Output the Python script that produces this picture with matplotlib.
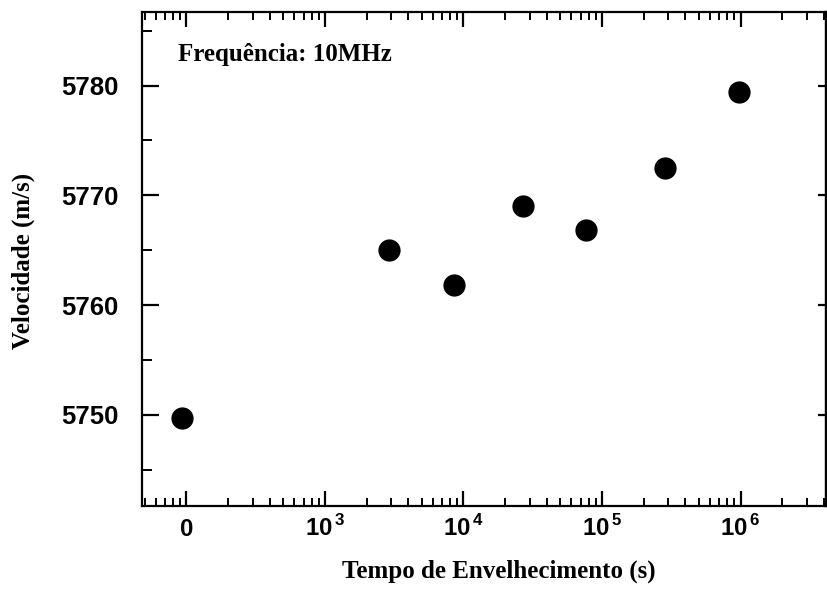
import matplotlib
matplotlib.use("Agg")
import matplotlib.pyplot as plt
from matplotlib.ticker import FixedLocator, FixedFormatter, LogLocator, NullFormatter

# Data
tempo = [93, 2900, 8500, 26800, 76700, 285000, 975000]
velocidade = [5749.7, 5765.0, 5761.8, 5769.0, 5766.8, 5772.5, 5779.4]

x_tick_values = [1e2, 1e3, 1e4, 1e5, 1e6]
x_tick_labels = [r"$\mathbf{0}$", r"$\mathbf{10}^{\,\mathbf{3}}$", r"$\mathbf{10}^{\,\mathbf{4}}$",
                 r"$\mathbf{10}^{\,\mathbf{5}}$", r"$\mathbf{10}^{\,\mathbf{6}}$"]
y_major = [5750, 5760, 5770, 5780]
y_minor = [5745, 5755, 5765, 5775, 5785]

plt.rcParams["mathtext.fontset"] = "custom"
plt.rcParams["mathtext.bf"] = "Liberation Sans:bold"
plt.rcParams["mathtext.rm"] = "Liberation Sans:bold"

fig = plt.figure(figsize=(8.27, 5.89), dpi=100)
ax = fig.add_axes([0.1713, 0.1409, 0.8275, 0.8387])

ax.plot(tempo, velocidade, "o", color="black", markersize=15, zorder=3)

ax.set_xscale("log")
ax.set_xlim(47.5, 4.14e6)
ax.set_ylim(5741.7, 5786.7)

ax.xaxis.set_major_locator(FixedLocator(x_tick_values))
ax.xaxis.set_major_formatter(FixedFormatter(x_tick_labels))
ax.xaxis.set_minor_locator(LogLocator(base=10, subs=range(2, 10), numticks=20))
ax.xaxis.set_minor_formatter(NullFormatter())

ax.yaxis.set_major_locator(FixedLocator(y_major))
ax.yaxis.set_minor_locator(FixedLocator(y_minor))
ax.set_yticklabels([str(v) for v in y_major], fontfamily="Liberation Sans",
                   fontweight="bold", fontsize=18.5)

for s in ax.spines.values():
    s.set_linewidth(1.6)

ax.tick_params(axis="x", which="major", direction="in", length=11, width=1.6,
               top=True, bottom=True, labelsize=17.3, pad=21.6)
ax.tick_params(axis="x", which="minor", direction="in", length=5.5, width=1.4,
               top=True, bottom=True)
ax.tick_params(axis="y", which="major", direction="in", length=12, width=1.6,
               left=True, right=False, pad=16.8)
ax.tick_params(axis="y", which="minor", direction="in", length=7, width=1.4,
               left=True, right=False)

for lab in ax.get_xticklabels():
    lab.set_va("baseline")

sec = ax.secondary_yaxis("right")
sec.yaxis.set_major_locator(FixedLocator(y_major))
sec.tick_params(direction="in", length=6, width=1.6, labelright=False)
sec.spines["right"].set_linewidth(1.6)

ax.set_xlabel("Tempo de Envelhecimento (s)", fontfamily="Liberation Serif",
              fontweight="bold", fontsize=18)
ax.xaxis.set_label_coords(0.522, -0.145)
ax.xaxis.label.set_va("baseline")
ax.set_ylabel("Velocidade (m/s)", fontfamily="Liberation Serif",
              fontweight="bold", fontsize=18)
ax.yaxis.set_label_coords(-0.173, 0.497)
ax.yaxis.label.set_va("center")

ax.text(0.053, 0.913, "Frequência: 10MHz", transform=ax.transAxes,
        fontfamily="Liberation Serif", fontweight="bold", fontsize=18,
        ha="left", va="center")

fig.savefig("out.png", dpi=100, facecolor="white")
